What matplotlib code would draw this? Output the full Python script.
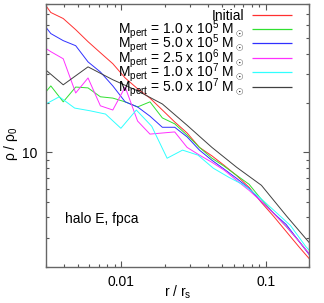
import matplotlib
matplotlib.use("Agg")
import matplotlib.pyplot as plt
from matplotlib.ticker import FixedLocator, NullFormatter, FixedFormatter

plt.rcParams['font.family'] = ['Liberation Sans', 'DejaVu Sans']
plt.rcParams['mathtext.fontset'] = 'custom'
plt.rcParams['mathtext.rm'] = 'Liberation Sans'
plt.rcParams['mathtext.it'] = 'Liberation Sans'

# radii grids (r / r_s)
r_fine = [0.00266, 0.00324, 0.00395, 0.00482, 0.00587, 0.00715, 0.00872, 0.01062,
          0.01295, 0.01578, 0.01923, 0.02343, 0.02856, 0.03478, 0.04244, 0.05172,
          0.06300, 0.07684, 0.09355, 0.1140, 0.1390, 0.1694, 0.2061]
r_cyan = [0.00290, 0.00371, 0.00474, 0.00607, 0.00776, 0.00992, 0.01269, 0.01623,
          0.02075, 0.02655, 0.03396, 0.04345, 0.05558, 0.07108, 0.09091, 0.1163,
          0.1487, 0.1902, 0.2433]
r_black = [0.00266, 0.00395, 0.00587, 0.00872, 0.01295, 0.01923, 0.02856, 0.04244,
           0.06300, 0.09355, 0.1390, 0.2061]

rho_initial = [90.6, 71.3, 65.5, 56.0, 47.3, 40.5, 34.7, 28.4, 24.4, 21.4, 18.1, 15.3,
               13.1, 10.7, 9.5, 8.3, 7.2, 6.1, 4.93, 4.05, 3.28, 2.66, 2.18]
rho_1e5 = [20.6, 25.4, 20.3, 25.0, 24.7, 21.8, 21.4, 20.3, 18.9, 20.3, 16.2, 14.9,
           12.7, 10.7, 9.19, 8.20, 7.22, 6.37, 5.15, 4.23, 3.52, 2.88, 2.33]
rho_5e5 = [66.4, 53.0, 48.0, 44.7, 35.6, 30.9, 25.4, 20.3, 18.9, 16.6, 14.2, 14.2,
           12.4, 10.3, 8.93, 7.87, 6.92, 6.01, 5.00, 4.23, 3.62, 2.88, 2.30]
rho_25e6 = [46.0, 41.1, 37.2, 23.0, 28.4, 19.2, 18.1, 25.0, 15.5, 12.9, 13.1, 13.3,
            10.7, 9.6, 8.68, 7.76, 6.73, 5.85, 5.00, 4.23, 3.52, 2.88, 2.33]
rho_1e7 = [19.4, 21.8, 18.6, 17.9, 17.1, 14.0, 18.1, 14.4, 9.19, 10.3, 9.6, 7.98,
           7.03, 6.28, 5.30, 4.35, 3.57, 2.65, 2.11]
rho_5e7 = [34.7, 25.8, 33.2, 27.7, 23.7, 19.7, 14.6, 10.7, 8.09, 6.28, 4.10, 2.73]

labels = ['Initial',
          r'M$_{\rm pert}$ = 1.0 x 10$^5$ M$_\odot$',
          r'M$_{\rm pert}$ = 5.0 x 10$^5$ M$_\odot$',
          r'M$_{\rm pert}$ = 2.5 x 10$^6$ M$_\odot$',
          r'M$_{\rm pert}$ = 1.0 x 10$^7$ M$_\odot$',
          r'M$_{\rm pert}$ = 5.0 x 10$^7$ M$_\odot$']
colors = ['#ff3030', '#30e030', '#3030ff', '#ff30ff', '#30ffff', '#404040']

series = [(r_fine, rho_initial), (r_fine, rho_1e5), (r_fine, rho_5e5),
          (r_fine, rho_25e6), (r_cyan, rho_1e7), (r_black, rho_5e7)]

fig = plt.figure(figsize=(3.24, 3.03), dpi=100)
ax = fig.add_axes([46/324, 1-266.7/303, 263/324, 262.4/303])

for (x, y), c in zip(series, colors):
    ax.plot(x, y, color=c, lw=0.7)

ax.set_xscale('log')
ax.set_yscale('log')
ax.set_xlim(0.003, 0.2)
ax.set_ylim(2, 80)

ax.xaxis.set_major_locator(FixedLocator([0.01, 0.1]))
ax.xaxis.set_major_formatter(FixedFormatter(['0.01', '0.1']))
ax.xaxis.set_minor_locator(FixedLocator([0.003, 0.004, 0.005, 0.006, 0.007, 0.008, 0.009,
                                         0.02, 0.03, 0.04, 0.05, 0.06, 0.07, 0.08, 0.09, 0.2]))
ax.xaxis.set_minor_formatter(NullFormatter())
ax.yaxis.set_major_locator(FixedLocator([10]))
ax.yaxis.set_major_formatter(FixedFormatter(['10']))
ax.yaxis.set_minor_locator(FixedLocator([2, 3, 4, 5, 6, 7, 8, 9, 20, 30, 40, 50, 60, 70, 80]))
ax.yaxis.set_minor_formatter(NullFormatter())

ax.tick_params(which='both', direction='in', top=True, right=True, color='#555555',
               width=0.8, labelsize=10, pad=6)
ax.tick_params(which='major', length=4)
ax.tick_params(which='minor', length=2.5)
for s in ax.spines.values():
    s.set_color('#666666')
    s.set_linewidth(1.0)

ax.set_xlabel(r'r / r$_{\rm s}$', fontsize=10)
ax.set_ylabel(r'$\rho$ / $\rho_0$', fontsize=10)
ax.xaxis.set_label_coords(0.5, -0.065)
ax.yaxis.set_label_coords(-0.1, 0.47)

# gnuplot-style key
key_y = [0.959, 0.906, 0.853, 0.795, 0.742, 0.685]
for lab, c, yk in zip(labels, colors, key_y):
    ax.text(0.753, yk - 0.019, lab, transform=ax.transAxes, ha='right', va='baseline',
            fontsize=10)
    ax.plot([0.783, 0.935], [yk, yk], transform=ax.transAxes, color=c, lw=0.9,
            solid_capstyle='butt')

ax.text(0.072, 0.182, 'halo E, fpca', transform=ax.transAxes, ha='left', va='center',
        fontsize=10)

fig.savefig('out.png', dpi=100)
